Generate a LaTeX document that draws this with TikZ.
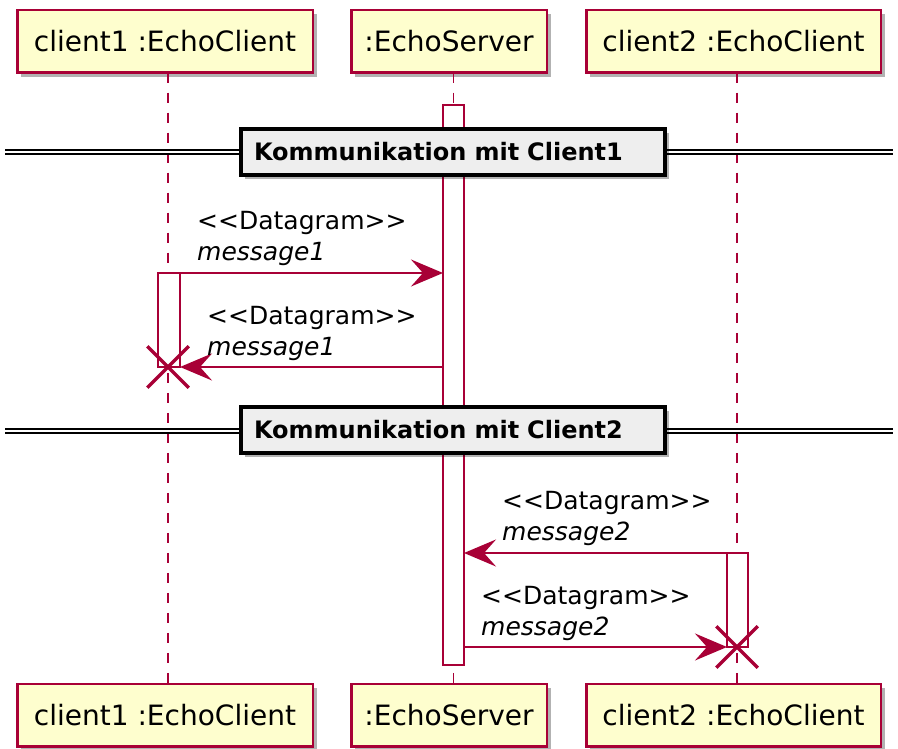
\documentclass[tikz,border=0pt]{standalone}
\usepackage{fontspec}
\setmainfont{DejaVu Sans}
\usetikzlibrary{arrows.meta,shapes.misc,shadows}
\definecolor{umlred}{HTML}{A80036}
\definecolor{umlfill}{HTML}{FEFECE}
\definecolor{sepfill}{HTML}{EEEEEE}
\begin{document}
\begin{tikzpicture}[x=1pt,y=-1pt,
  participant/.style={draw=umlred, fill=umlfill, line width=2.5pt, minimum height=62.5pt,
    inner sep=0pt, outer sep=0pt, font=\fontsize{28}{34}\selectfont,
    drop shadow={shadow xshift=4pt, shadow yshift=-4pt, fill=black, opacity=0.3}},
  lifeline/.style={draw=umlred, line width=1.8pt, dash pattern=on 10pt off 10pt},
  actbox/.style={draw=umlred, fill=white, line width=2pt, inner sep=0pt, outer sep=0pt, minimum width=21pt},
  msg/.style={draw=umlred, line width=2pt, -{Stealth[length=32pt,width=27pt,inset=12pt]}},
  destroy/.style={cross out, draw=umlred, line width=3.5pt, minimum size=38pt, inner sep=0pt},
  sepline/.style={draw=black, line width=2pt, double=white, double distance=2pt},
  sepbox/.style={draw=black, fill=sepfill, line width=4pt, minimum width=424pt, minimum height=46pt,
    inner xsep=13pt, inner ysep=0pt, text width=398pt, align=left,
    font=\bfseries\fontsize{24}{29}\selectfont,
    drop shadow={shadow xshift=4pt, shadow yshift=-4pt, fill=black, opacity=0.3}},
  lbl/.style={font=\fontsize{25}{31}\selectfont, align=left, inner sep=0pt, anchor=south west}
]
\useasboundingbox (0,0) rectangle (898,749);

% lifeline x positions
\coordinate (l1) at (168,0);
\coordinate (l2) at (453.5,0);
\coordinate (l3) at (737,0);

% participants
\node[participant, minimum width=295.5pt] (p1t) at (165,41.5) {client1 :EchoClient};
\node[participant, minimum width=195.5pt] (p2t) at (449,41.5) {:EchoServer};
\node[participant, minimum width=294.5pt] (p3t) at (733.5,41.5) {client2 :EchoClient};
\node[participant, minimum width=295.5pt] (p1b) at (165,715) {client1 :EchoClient};
\node[participant, minimum width=195.5pt] (p2b) at (449,715) {:EchoServer};
\node[participant, minimum width=294.5pt] (p3b) at (733.5,715) {client2 :EchoClient};

% lifelines
\draw[lifeline] (p1t.south -| l1) -- (p1b.north -| l1);
\draw[lifeline] (p2t.south -| l2) -- (p2b.north -| l2);
\draw[lifeline] (p3t.south -| l3) -- (p3b.north -| l3);

% activations
\node[actbox, minimum height=560pt] (sa) at (453.5,385) {};
\node[actbox, minimum height=94pt, minimum width=22pt] (c1a) at (169,320) {};
\node[actbox, minimum height=94pt] (c2a) at (737.5,600) {};

% separators
\coordinate (s1l) at (5,152.5);
\coordinate (s1r) at (893,152.5);
\coordinate (s2l) at (5,431);
\coordinate (s2r) at (893,431);
\draw[sepline] (s1l) -- (s1r);
\draw[sepline] (s2l) -- (s2r);
\node[sepbox] (sep1) at (453,152) {Kommunikation mit Client1};
\node[sepbox] (sep2) at (453,430) {Kommunikation mit Client2};

% destroy marks
\node[destroy] (x1) at (168,367) {};
\node[destroy] (x2) at (737,647) {};

% messages
\draw[msg] (c1a.north east) -- (c1a.north east -| sa.west);
\draw[msg] (x1 -| sa.west) -- (x1 -| c1a.east);
\draw[msg] (c2a.north west) -- (c2a.north west -| sa.east);
\draw[msg] (x2 -| sa.east) -- (x2 -| c2a.west);

% labels
\node[lbl] (t1) at (197,266) {<{}<Datagram>{}>\\\itshape message1};
\node[lbl] (t2) at (207,361) {<{}<Datagram>{}>\\\itshape message1};
\node[lbl] (t3) at (502,546) {<{}<Datagram>{}>\\\itshape message2};
\node[lbl] (t4) at (481,641) {<{}<Datagram>{}>\\\itshape message2};
\end{tikzpicture}
\end{document}
